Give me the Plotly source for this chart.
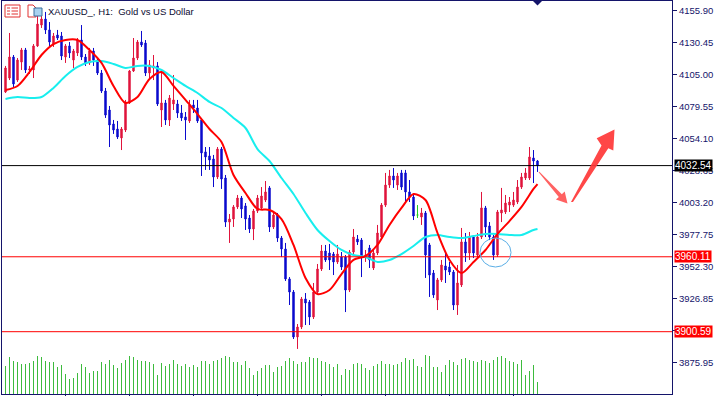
import plotly.graph_objects as go

# ---------------- data ----------------
bars = list(range(134))

open_ = [4091.0, 4102.1, 4118.8, 4100.5, 4114.8, 4124.4, 4108.5, 4108.5, 4127.6, 4144.2,
         4149.0, 4140.3, 4129.1, 4136.3, 4135.5, 4118.8, 4127.6, 4116.4, 4122.0, 4132.3,
         4118.8, 4114.1, 4123.6, 4116.4, 4106.1, 4091.8, 4076.7, 4065.6, 4061.6, 4054.5,
         4060.8, 4082.3, 4107.7, 4118.0, 4130.7, 4129.9, 4106.1, 4110.1, 4111.7, 4076.7,
         4082.3, 4068.8, 4081.5, 4081.5, 4074.3, 4071.2, 4068.0, 4080.7, 4078.3, 4068.8,
         4043.4, 4040.2, 4037.8, 4023.5, 4045.7, 4022.7, 3987.7, 3990.1, 3999.7, 4006.8,
         4000.5, 3990.9, 3982.2, 3996.5, 3998.9, 4005.2, 4014.8, 3983.8, 3993.3, 3975.0,
         3966.3, 3942.5, 3932.1, 3896.4, 3904.3, 3926.6, 3924.2, 3912.3, 3932.1, 3950.4,
         3964.7, 3963.1, 3962.3, 3956.0, 3959.9, 3959.9, 3933.7, 3963.9, 3974.2, 3973.4,
         3959.9, 3967.1, 3951.2, 3963.1, 3975.8, 4001.2, 4017.1, 4024.3, 4017.1, 4026.7,
         4026.7, 4011.6, 4007.6, 3993.3, 3991.7, 3994.9, 3969.5, 3947.2, 3925.8, 3941.7,
         3952.8, 3952.0, 3948.0, 3921.8, 3937.7, 3971.9, 3963.1, 3975.8, 3961.5, 3975.8,
         3998.9, 3984.6, 3975.8, 3961.5, 3994.9, 3995.7, 4001.2, 4001.2, 4003.6, 4015.5,
         4022.7, 4022.7, 4038.6, 4036.2]

high = [4111.7, 4137.9, 4120.4, 4118.0, 4126.0, 4126.0, 4111.7, 4129.1, 4153.8, 4153.0,
        4154.6, 4146.6, 4137.9, 4140.3, 4138.7, 4129.1, 4130.7, 4125.2, 4133.9, 4144.2,
        4121.2, 4126.0, 4126.0, 4118.0, 4108.5, 4094.2, 4079.9, 4068.8, 4068.0, 4063.2,
        4084.7, 4108.5, 4133.9, 4132.3, 4139.5, 4132.3, 4116.4, 4120.4, 4114.8, 4108.5,
        4084.7, 4088.6, 4104.5, 4084.7, 4080.7, 4075.1, 4084.7, 4084.7, 4084.7, 4070.4,
        4047.3, 4047.3, 4041.0, 4047.3, 4047.3, 4025.1, 3994.1, 4001.2, 4009.2, 4008.4,
        4002.8, 3993.3, 3998.1, 4009.2, 4015.5, 4020.3, 4016.3, 3995.7, 3994.9, 3976.6,
        3971.1, 3944.0, 3933.7, 3906.7, 3928.2, 3931.3, 3925.8, 3939.3, 3954.4, 3969.5,
        3969.5, 3970.3, 3963.9, 3969.5, 3963.9, 3961.5, 3965.5, 3982.2, 3977.4, 3975.0,
        3965.5, 3969.5, 3965.5, 3985.4, 4002.8, 4026.7, 4029.1, 4030.6, 4026.7, 4029.1,
        4029.1, 4021.1, 4009.2, 4001.2, 3998.9, 3996.5, 3971.1, 3949.6, 3943.3, 3957.6,
        3963.9, 3956.0, 3949.6, 3953.6, 3983.0, 3979.0, 3979.8, 3977.4, 3979.0, 4011.6,
        4000.5, 3987.7, 3977.4, 3997.3, 4014.8, 4009.2, 4007.6, 4011.6, 4021.1, 4026.7,
        4030.6, 4047.3, 4044.9, 4037.0]

low = [4090.2, 4100.5, 4094.2, 4099.0, 4108.5, 4106.1, 4105.3, 4102.1, 4126.8, 4141.9,
       4137.1, 4126.8, 4126.8, 4132.3, 4116.4, 4114.1, 4118.0, 4110.1, 4119.6, 4116.4,
       4111.7, 4112.5, 4111.7, 4104.5, 4090.2, 4070.4, 4047.3, 4057.7, 4053.7, 4044.9,
       4059.2, 4081.5, 4106.9, 4116.4, 4126.8, 4103.7, 4102.1, 4100.5, 4079.9, 4063.2,
       4064.8, 4064.0, 4076.7, 4070.4, 4068.0, 4052.9, 4066.4, 4074.3, 4066.4, 4024.3,
       4029.1, 4029.1, 4015.5, 4021.9, 4014.0, 3983.8, 3971.1, 3983.8, 3998.1, 3990.9,
       3981.4, 3979.0, 3973.4, 3994.9, 3997.3, 4003.6, 3979.8, 3982.2, 3971.9, 3959.9,
       3940.9, 3921.8, 3894.8, 3886.9, 3902.7, 3905.9, 3905.9, 3910.7, 3930.5, 3948.8,
       3956.0, 3949.6, 3945.6, 3954.4, 3949.6, 3916.2, 3932.1, 3962.3, 3969.5, 3944.0,
       3956.0, 3951.2, 3949.6, 3961.5, 3974.2, 3999.7, 4014.8, 4014.8, 4013.2, 4013.2,
       4003.6, 4003.6, 3989.3, 3990.9, 3985.4, 3943.3, 3928.2, 3927.4, 3917.8, 3940.1,
       3939.3, 3945.6, 3917.8, 3913.9, 3936.1, 3956.0, 3957.6, 3959.1, 3959.9, 3974.2,
       3975.8, 3973.4, 3957.6, 3959.9, 3987.7, 3994.1, 3995.7, 3999.7, 4002.0, 4014.0,
       4021.1, 4021.1, 4018.7, 4027.5]

close = [4110.1, 4118.8, 4097.4, 4116.4, 4124.4, 4108.5, 4109.3, 4127.6, 4145.0, 4149.0,
         4140.3, 4130.7, 4135.5, 4133.9, 4119.6, 4127.6, 4122.0, 4123.6, 4132.3, 4118.8,
         4114.1, 4123.6, 4116.4, 4106.1, 4091.8, 4072.7, 4064.8, 4060.8, 4055.3, 4061.6,
         4083.1, 4107.7, 4118.0, 4130.7, 4128.4, 4106.1, 4112.5, 4111.7, 4081.5, 4082.3,
         4068.8, 4086.2, 4084.7, 4074.3, 4070.4, 4068.8, 4080.7, 4078.3, 4068.0, 4042.6,
         4039.4, 4037.0, 4023.5, 4045.7, 4021.9, 3987.7, 3990.1, 3999.7, 4006.8, 3998.1,
         3990.1, 3982.2, 3996.5, 4006.8, 4008.4, 4011.6, 3983.8, 3993.3, 3975.0, 3966.3,
         3942.5, 3932.1, 3896.4, 3904.3, 3926.6, 3923.4, 3912.3, 3932.1, 3950.4, 3964.7,
         3957.6, 3957.6, 3956.0, 3962.3, 3952.0, 3933.7, 3963.9, 3975.8, 3971.9, 3959.9,
         3961.5, 3957.6, 3963.1, 3979.0, 4001.2, 4017.1, 4024.3, 4021.1, 4024.3, 4015.5,
         4011.6, 4007.6, 3992.5, 3993.3, 3994.9, 3961.5, 3945.6, 3929.8, 3941.7, 3953.6,
         3949.6, 3948.0, 3921.8, 3939.3, 3971.9, 3963.1, 3975.8, 3963.1, 3975.8, 3998.9,
         3983.8, 3975.8, 3961.5, 3995.7, 3997.3, 4002.8, 4003.6, 4005.2, 4015.5, 4023.5,
         4026.7, 4039.4, 4036.2, 4032.54]

volume = [28, 37, 33, 32, 30, 30, 31, 33, 38, 37,
          33, 32, 32, 27, 29, 20, 15, 16, 21, 30,
          27, 21, 23, 23, 32, 30, 34, 29, 26, 31,
          34, 38, 37, 34, 33, 33, 32, 30, 19, 31,
          28, 30, 34, 30, 28, 30, 27, 29, 27, 33,
          33, 30, 33, 34, 36, 38, 37, 32, 32, 29,
          33, 26, 19, 23, 26, 29, 29, 22, 27, 28,
          33, 36, 33, 30, 32, 32, 37, 36, 36, 33,
          32, 30, 27, 30, 19, 25, 24, 30, 31, 30,
          26, 24, 28, 30, 33, 30, 30, 29, 30, 32,
          36, 34, 35, 28, 27, 39, 38, 27, 27, 22,
          29, 34, 32, 29, 35, 36, 34, 33, 32, 34,
          33, 31, 34, 37, 38, 36, 33, 32, 30, 34,
          19, 23, 29, 12]

ma_bars = [0, 3, 6, 9, 12, 15, 18, 21, 24, 27, 30, 33, 36, 39, 42, 45, 48, 51, 54, 57,
           60, 63, 66, 69, 72, 75, 78, 81, 84, 87, 90, 93, 96, 99, 102, 105, 108, 111, 114,
           117, 120, 123, 126, 129, 132, 133]

ma_fast = [4092.6, 4095.8, 4106.9, 4120.4, 4129.1, 4132.3, 4132.3, 4124.4, 4114.1, 4095.8,
           4082.3, 4087.0, 4101.3, 4106.9, 4095.8, 4084.7, 4073.5, 4061.6, 4051.3, 4025.1,
           4010.8, 3998.1, 3997.3, 3990.1, 3969.5, 3943.3, 3930.5, 3933.7, 3946.4, 3957.6,
           3960.7, 3969.5, 3985.4, 3998.9, 4010.0, 4005.2, 3979.0, 3957.6, 3947.2, 3956.0,
           3965.5, 3978.2, 3988.5, 3999.7, 4014.0, 4017.9]

ma_slow = [4085.5, 4087.0, 4086.2, 4087.0, 4094.2, 4103.7, 4110.9, 4114.8, 4115.6, 4113.3,
           4110.1, 4111.7, 4111.7, 4108.5, 4102.1, 4095.8, 4090.2, 4083.1, 4078.3, 4070.4,
           4062.4, 4045.7, 4036.2, 4022.7, 4010.0, 3994.9, 3981.4, 3972.6, 3965.5, 3961.5,
           3959.9, 3956.0, 3957.6, 3962.3, 3968.7, 3975.8, 3977.4, 3975.8, 3975.0, 3976.6,
           3978.2, 3978.2, 3977.4, 3977.4, 3981.4, 3982.2]

y_tickvals = [4155.90, 4130.45, 4105.00, 4079.55, 4054.10, 4028.65, 4003.20,
              3977.75, 3952.30, 3926.85, 3901.40, 3875.95]
# 3901.40 sits fully under the 3900.59 price box in the reference, so its text is blank
y_ticktext = ["4155.90", "4130.45", "4105.00", "4079.55", "4054.10", "4028.65", "4003.20",
              "3977.75", "3952.30", "3926.85", "", "3875.95"]
x_tickvals = [15, 31, 47, 63, 79, 95, 111, 127]

price_levels = [4032.54, 3960.11, 3900.59]
price_labels = ["4032.54", "3960.11", "3900.59"]
price_colors = ["#000000", "#ff0000", "#ff0000"]

title_text = "XAUUSD_, H1:  Gold vs US Dollar"

# ---------------- layout helpers ----------------
W, H = 725, 396
ML, MR, MTOP, MB = 2, 53, 1, 2
PW = W - ML - MR
PH = H - MTOP - MB
NAVY = "#14146a"


def fx(px):
    return (px - ML) / PW


def fy(py):
    return (H - MB - py) / PH


def path(points):
    return "M " + " L ".join(f"{fx(x):.5f},{fy(y):.5f}" for x, y in points) + " Z"


# ---------------- traces ----------------
fig = go.Figure()

# volume histogram as 1px vertical segments
vx, vy = [], []
for b, v in zip(bars, volume):
    vx += [b, b, None]
    vy += [0, v, None]
fig.add_trace(go.Scatter(x=vx, y=vy, yaxis="y2", mode="lines",
                         line=dict(color="#3dbb3d", width=1),
                         hoverinfo="skip", showlegend=False))

nd = [i for i in bars if open_[i] != close[i]]
dj = [i for i in bars if open_[i] == close[i]]

fig.add_trace(go.Candlestick(
    x=[bars[i] for i in nd], open=[open_[i] for i in nd], high=[high[i] for i in nd],
    low=[low[i] for i in nd], close=[close[i] for i in nd],
    increasing=dict(line=dict(color="#e0143c", width=1), fillcolor="#e0143c"),
    decreasing=dict(line=dict(color="#0a0acd", width=1), fillcolor="#0a0acd"),
    whiskerwidth=0, showlegend=False, hoverinfo="skip"))

fig.add_trace(go.Candlestick(
    x=[bars[i] for i in dj], open=[open_[i] for i in dj], high=[high[i] for i in dj],
    low=[low[i] for i in dj], close=[close[i] for i in dj],
    increasing=dict(line=dict(color="#22cc22", width=1), fillcolor="#22cc22"),
    decreasing=dict(line=dict(color="#22cc22", width=1), fillcolor="#22cc22"),
    whiskerwidth=0, showlegend=False, hoverinfo="skip"))

fig.add_trace(go.Scatter(x=ma_bars, y=ma_slow, mode="lines",
                         line=dict(color="#18eeee", width=2, shape="spline", smoothing=0.8),
                         hoverinfo="skip", showlegend=False))
fig.add_trace(go.Scatter(x=ma_bars, y=ma_fast, mode="lines",
                         line=dict(color="#ff0000", width=2, shape="spline", smoothing=0.8),
                         hoverinfo="skip", showlegend=False))

# ---------------- shapes ----------------
shapes = []
for lvl, col in zip(price_levels, price_colors):
    shapes.append(dict(type="line", xref="paper", x0=0, x1=1, yref="y", y0=lvl, y1=lvl,
                       line=dict(color=col, width=1)))

# highlight circle
shapes.append(dict(type="circle", xref="paper", yref="paper",
                   x0=fx(480), x1=fx(511), y0=fy(267), y1=fy(238),
                   line=dict(color="#5aaee6", width=1)))

# arrows
shapes.append(dict(type="path", xref="paper", yref="paper",
                   path=path([(538.6, 172.3), (558.8, 196.9), (555.9, 199.6), (567.5, 203.5),
                              (564.7, 191.6), (561.8, 194.3), (539.4, 171.7)]),
                   fillcolor="rgba(255,70,70,0.85)", line=dict(width=0)))
shapes.append(dict(type="path", xref="paper", yref="paper",
                   path=path([(571.0, 202.0), (601.5, 145.5), (596.7, 138.3), (614.5, 129.5),
                              (613.3, 150.5), (608.3, 148.3), (573.0, 202.0)]),
                   fillcolor="rgba(255,55,55,0.92)", line=dict(width=0)))

# chart-shift marker
shapes.append(dict(type="path", xref="paper", yref="paper",
                   path=path([(532.5, 0.5), (542.5, 0.5), (537.5, 5.5)]),
                   fillcolor=NAVY, line=dict(width=0)))

# icons
shapes.append(dict(type="rect", xref="paper", yref="paper",
                   x0=fx(5), x1=fx(20), y0=fy(17), y1=fy(5),
                   line=dict(color="#e03030", width=1), fillcolor="#ffffff"))
for yy in (8, 11, 14):
    shapes.append(dict(type="line", xref="paper", yref="paper",
                       x0=fx(7), x1=fx(10), y0=fy(yy), y1=fy(yy),
                       line=dict(color="#e03030", width=1)))
    shapes.append(dict(type="line", xref="paper", yref="paper",
                       x0=fx(11.5), x1=fx(18), y0=fy(yy), y1=fy(yy),
                       line=dict(color="#e03030", width=1)))
shapes.append(dict(type="path", xref="paper", yref="paper",
                   path=path([(28, 17), (28, 5), (33, 5), (36, 8), (36, 17)]),
                   line=dict(color="#e03030", width=1), fillcolor="#ffffff"))
shapes.append(dict(type="rect", xref="paper", yref="paper",
                   x0=fx(34), x1=fx(42), y0=fy(16), y1=fy(8),
                   line=dict(color="#3a6e9e", width=1), fillcolor="#a8d2f0"))

# ---------------- annotations ----------------
annotations = [dict(xref="paper", yref="paper", x=fx(46), y=fy(11.5), xanchor="left",
                    yanchor="middle", text=title_text, showarrow=False,
                    font=dict(family="Liberation Sans", size=9.5, color="#0b0b30"))]
for lvl, lab, col in zip(price_levels, price_labels, price_colors):
    annotations.append(dict(xref="paper", yref="y", x=fx(674), y=lvl, xanchor="left",
                            yanchor="middle", text=lab, showarrow=False, bgcolor=col,
                            borderpad=0,
                            font=dict(family="Liberation Sans", size=10, color="#ffffff")))

fig.update_layout(
    template="none",
    width=W, height=H,
    margin=dict(l=ML, r=MR, t=MTOP, b=MB, pad=0),
    paper_bgcolor="#ffffff", plot_bgcolor="#ffffff",
    showlegend=False, boxgap=0.5,
    font=dict(family="Liberation Sans", size=10, color=NAVY),
    xaxis=dict(range=[-0.875, 166.625], showgrid=False, zeroline=False, showline=True,
               mirror=True, linecolor=NAVY, linewidth=1, ticks="outside", ticklen=4,
               tickcolor=NAVY, tickvals=x_tickvals, showticklabels=False,
               rangeslider=dict(visible=False), automargin=False, fixedrange=True),
    yaxis=dict(side="right", range=[3851.1, 4163.3], showgrid=False, zeroline=False,
               showline=True, mirror=True, linecolor=NAVY, linewidth=1, ticks="outside",
               ticklen=4, tickcolor=NAVY, tickvals=y_tickvals, ticktext=y_ticktext,
               tickfont=dict(family="Liberation Sans", size=9.5, color=NAVY),
               automargin=False, fixedrange=True),
    yaxis2=dict(overlaying="y", range=[0, 393], visible=False, fixedrange=True),
    shapes=shapes,
    annotations=annotations,
)

fig.write_html("out.html", config={"displayModeBar": False},
               post_script="document.body.style.margin='0';document.body.style.overflow='hidden';")
